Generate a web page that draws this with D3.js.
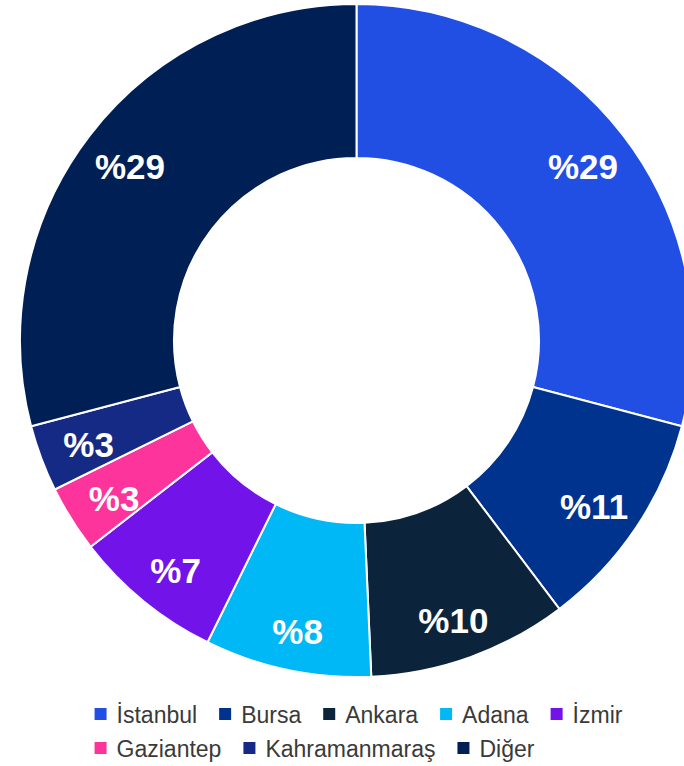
<!DOCTYPE html>
<html>
<head>
<meta charset="utf-8">
<script src="https://cdn.jsdelivr.net/npm/d3@7"></script>
<style>
  html, body { margin: 0; padding: 0; background: #fff; }
  svg { display: block; }
</style>
</head>
<body>
<div id="chart"></div>
<script>
const cities = ["İstanbul", "Bursa", "Ankara", "Adana", "İzmir", "Gaziantep", "Kahramanmaraş", "Diğer"];
const shares = [29.1, 10.6, 9.6, 8.0, 7.2, 3.2, 3.2, 29.1];
const colors = ["#214ee3", "#00338d", "#0c233c", "#00b8f5", "#7213ea", "#fd349c", "#152a85", "#002055"];

const width = 684, height = 766;
const cx = 356.5, cy = 340.5;
const outerR = 336.5, innerR = 182.5, labelR = 286;

const svg = d3.select("#chart").append("svg")
    .attr("width", width)
    .attr("height", height);

const data = cities.map((c, i) => ({ city: c, value: shares[i] }));

const pie = d3.pie()
    .sort(null)
    .value(d => d.value);

const arc = d3.arc()
    .innerRadius(innerR)
    .outerRadius(outerR);

const labelArc = d3.arc()
    .innerRadius(labelR)
    .outerRadius(labelR);

const color = d3.scaleOrdinal()
    .domain(cities)
    .range(colors);

const g = svg.append("g")
    .attr("transform", `translate(${cx},${cy})`);

const arcs = pie(data);

g.selectAll(".slice")
    .data(arcs)
    .join("path")
    .attr("class", "slice")
    .attr("d", arc)
    .attr("fill", d => color(d.data.city))
    .attr("stroke", "#fff")
    .attr("stroke-width", 2);

// labels sit a bit lower in the bottom half of the ring
g.selectAll(".lbl")
    .data(arcs)
    .join("text")
    .attr("class", "lbl")
    .attr("transform", d => {
        const [x, y] = labelArc.centroid(d);
        return `translate(${x},${y + Math.max(0, y) * 0.04})`;
    })
    .attr("text-anchor", "middle")
    .attr("dy", "0.36em")
    .attr("fill", "#fff")
    .style("font-family", "'Liberation Sans', Arial, sans-serif")
    .style("font-weight", "bold")
    .style("font-size", "35px")
    .text(d => "%" + Math.round(d.data.value));

// legend, wraps onto a second row that starts at the same x
const legend = svg.append("g").attr("class", "legend");
const rowBreak = 5;
const rows = [cities.slice(0, rowBreak), cities.slice(rowBreak)];
const sq = 12, sqGap = 10, itemGap = 22;
const rowY = [715, 749];
const legendFont = "23px";

const measure = svg.append("text")
    .style("font-family", "'Liberation Sans', Arial, sans-serif")
    .style("font-size", legendFont);
function textW(t) { measure.text(t); return measure.node().getComputedTextLength(); }

const row1W = d3.sum(rows[0], c => sq + sqGap + textW(c)) + itemGap * (rows[0].length - 1);
const x0 = 358.5 - row1W / 2;

rows.forEach((row, ri) => {
    let x = x0;
    row.forEach(c => {
        const item = legend.append("g").attr("transform", `translate(${x},${rowY[ri]})`);
        item.append("rect")
            .attr("x", 0)
            .attr("y", -sq / 2 - 1)
            .attr("width", sq)
            .attr("height", sq)
            .attr("fill", color(c));
        item.append("text")
            .attr("x", sq + sqGap)
            .attr("dy", "0.36em")
            .attr("fill", "#3a3a3a")
            .style("font-family", "'Liberation Sans', Arial, sans-serif")
            .style("font-size", legendFont)
            .text(c);
        x += sq + sqGap + textW(c) + itemGap;
    });
});
measure.remove();
</script>
</body>
</html>
